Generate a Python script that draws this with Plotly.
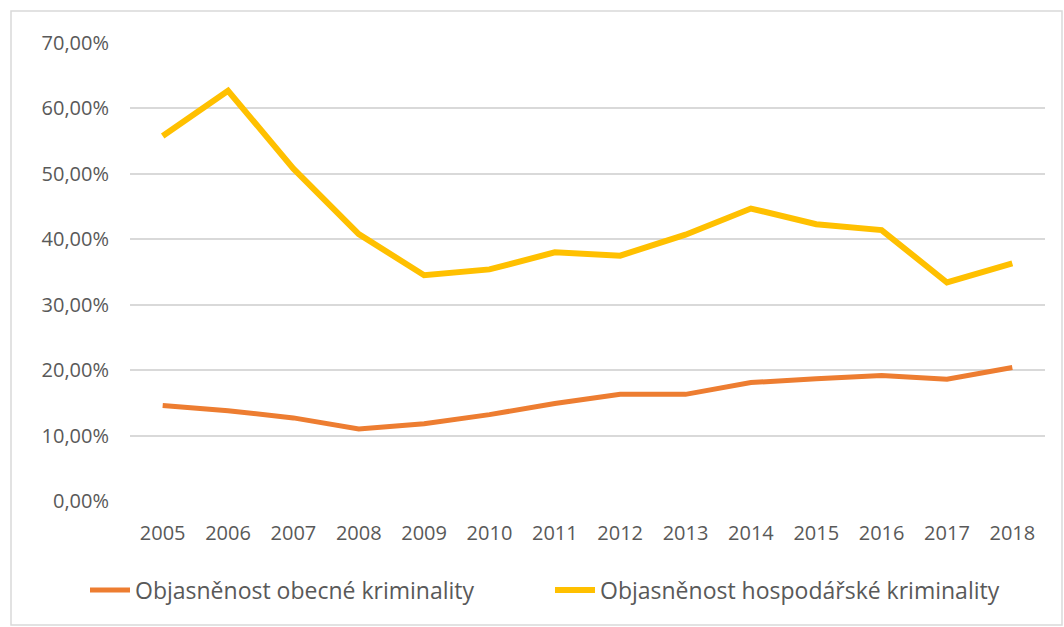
import plotly.graph_objects as go

years = ["2005", "2006", "2007", "2008", "2009", "2010", "2011", "2012", "2013", "2014", "2015", "2016", "2017", "2018"]
obecna = [0.146, 0.138, 0.127, 0.110, 0.118, 0.132, 0.149, 0.163, 0.163, 0.181, 0.187, 0.192, 0.186, 0.204]
hospodarska = [0.558, 0.627, 0.508, 0.408, 0.345, 0.354, 0.380, 0.375, 0.407, 0.447, 0.423, 0.414, 0.334, 0.363]
y_ticks = [0, 0.1, 0.2, 0.3, 0.4, 0.5, 0.6, 0.7]

FONT = "Open Sans"
GREY = "#595959"

fig = go.Figure()
fig.add_trace(go.Scatter(x=years, y=obecna, mode="lines", name="Objasněnost obecné kriminality",
                         line=dict(color="#ED7D31", width=5)))
fig.add_trace(go.Scatter(x=years, y=hospodarska, mode="lines", name="Objasněnost hospodářské kriminality",
                         line=dict(color="#FFC000", width=6)))

L, R, T, B = 130, 19, 43, 126
W, H = 1064, 627
pw = W - L - R
ph = H - T - B

def px_to_paper_x(px):
    return (px - L) / pw

def px_to_paper_y(py):
    return (H - B - py) / ph

fig.update_layout(
    width=W, height=H,
    margin=dict(l=L, r=R, t=T, b=B),
    paper_bgcolor="white", plot_bgcolor="white",
    separators=", ",
    font=dict(family=FONT, color=GREY, size=20),
    showlegend=True,
    legend=dict(orientation="h", x=px_to_paper_x(85), xanchor="left", y=px_to_paper_y(590), yanchor="middle",
                font=dict(family=FONT, size=23, color=GREY), itemwidth=40, traceorder="normal",
                entrywidth=410, entrywidthmode="pixels"),
    xaxis=dict(type="category", range=[-0.5, 13.5], showgrid=False, showline=False, zeroline=False, ticks="",
               tickfont=dict(size=20, color=GREY), ticklabelstandoff=18),
    yaxis=dict(range=[0, 0.7], tickvals=y_ticks, tickformat=".2%", showgrid=True, gridcolor="#D9D9D9",
               gridwidth=1.5, zeroline=False, showline=False, ticks="", tickfont=dict(size=20, color=GREY),
               ticklabelstandoff=20),
    shapes=[dict(type="rect", xref="paper", yref="paper",
                 x0=px_to_paper_x(11), x1=px_to_paper_x(1062),
                 y0=px_to_paper_y(625), y1=px_to_paper_y(11),
                 line=dict(color="#D9D9D9", width=1.5), layer="below")],
)

fig.write_html("out.html", config={"displayModeBar": False},
               post_script="document.body.style.margin='0';document.body.style.overflow='hidden';")
